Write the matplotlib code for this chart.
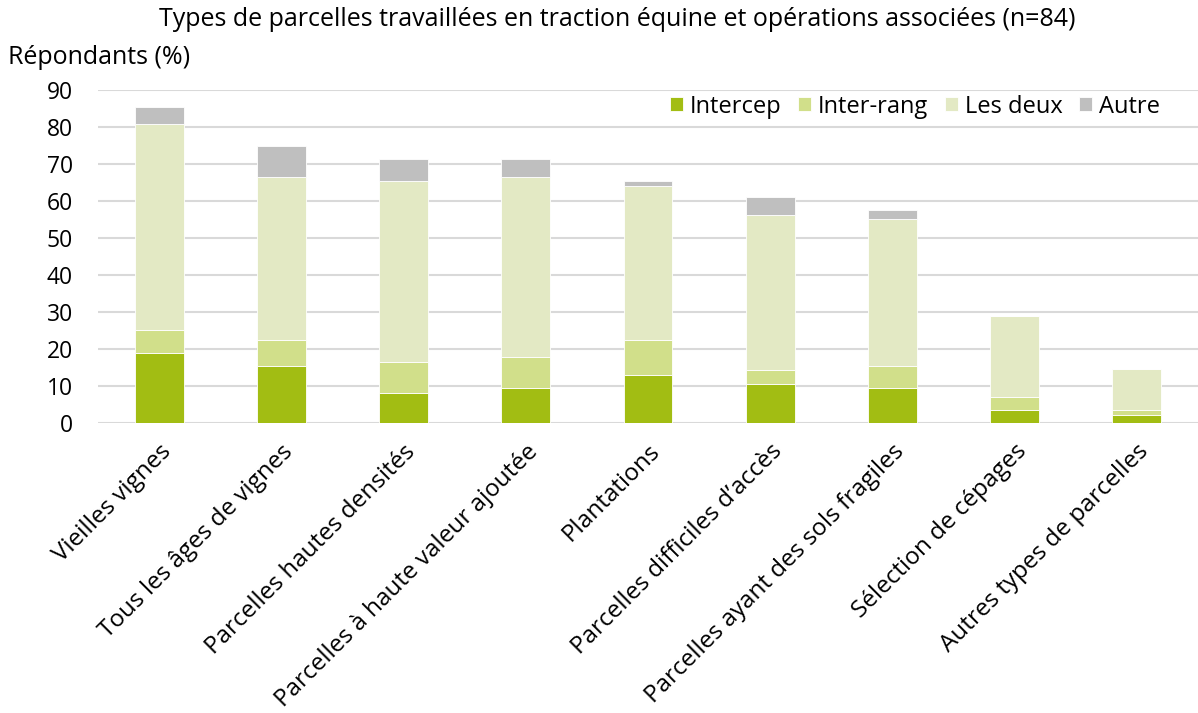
import numpy as np
import matplotlib.pyplot as plt

# Data (percentages of respondents, n=84)
categories = ["Vieilles vignes", "Tous les âges de vignes", "Parcelles hautes densités",
              "Parcelles à haute valeur ajoutée", "Plantations", "Parcelles difficiles d’accès",
              "Parcelles ayant des sols fragiles", "Sélection de cépages", "Autres types de parcelles"]
intercep = [19.0, 15.4, 8.2, 9.5, 13.0, 10.6, 9.5, 3.4, 2.2]
inter_rang = [6.0, 7.0, 8.3, 8.3, 9.4, 3.7, 6.0, 3.6, 1.3]
les_deux = [55.7, 44.0, 48.9, 48.7, 41.7, 42.0, 39.6, 21.8, 11.0]
autre = [4.7, 8.4, 5.9, 4.8, 1.2, 4.9, 2.5, 0.0, 0.0]

series = [("Intercep", intercep, "#A2BD13"),
          ("Inter-rang", inter_rang, "#D1DF8A"),
          ("Les deux", les_deux, "#E3E9C4"),
          ("Autre", autre, "#BFBFBF")]

plt.rcParams['font.family'] = ['Open Sans', 'DejaVu Sans']

fig = plt.figure(figsize=(11.98, 7.13), dpi=100)
ax = fig.add_axes([98 / 1198, 1 - 423 / 713, 1100 / 1198, 333 / 713])

x = np.arange(len(categories))
bottom = np.zeros(len(categories))
for name, vals, color in series:
    vals = np.array(vals)
    ax.bar(x, vals, width=0.4, bottom=bottom, color=color, label=name,
           edgecolor="white", linewidth=0.6, zorder=3)
    bottom += vals

ax.set_xlim(-0.5, len(categories) - 0.5)
ax.set_ylim(0, 90)
ax.set_yticks(range(0, 91, 10))
ax.yaxis.grid(True, color="#D9D9D9", linewidth=1.5, zorder=0)
ax.set_axisbelow(True)
for s in ax.spines.values():
    s.set_visible(False)
ax.tick_params(axis="y", length=0, labelsize=16.5, pad=18)
ax.tick_params(axis="x", length=0, pad=12)

ax.set_xticks(x)
ax.set_xticklabels(categories, rotation=45, ha="right", rotation_mode="anchor", fontsize=17.5)

ax.legend(loc="upper right", ncol=4, frameon=False, fontsize=17,
          handlelength=0.55, handleheight=0.55, handletextpad=0.3, columnspacing=0.7,
          bbox_to_anchor=(0.985, 1.05))

fig.text(0.515, 1 - 20 / 713, "Types de parcelles travaillées en traction équine et opérations associées (n=84)",
         ha="center", va="center", fontsize=18)
fig.text(8 / 1198, 1 - 58 / 713, "Répondants (%)", ha="left", va="center", fontsize=18)

fig.savefig("out.png", dpi=100)
